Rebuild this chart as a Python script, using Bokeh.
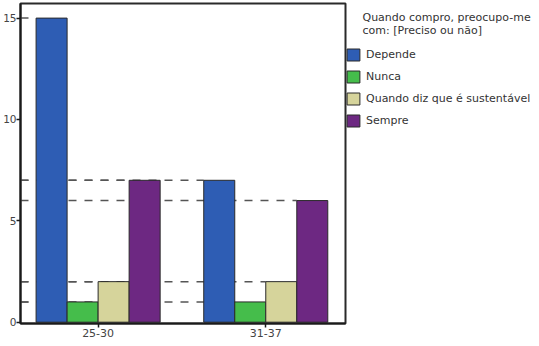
from bokeh.plotting import figure
from bokeh.models import Range1d, FixedTicker, Legend, LegendItem
from bokeh.embed import file_html
from bokeh.resources import INLINE

# ---- data ----
groups = ["25-30", "31-37"]
series = ["Depende", "Nunca", "Quando diz que é sustentável", "Sempre"]
depende = [15, 7]
nunca = [1, 1]
quando = [2, 2]
sempre = [7, 6]
values = [depende, nunca, quando, sempre]
colors = ["#2e5db4", "#45bd4b", "#d6d49b", "#6d2882"]
y_ticks = [0, 5, 10, 15]
legend_title = ["Quando compro, preocupo-me", "com: [Preciso ou não]"]

FONT = "DejaVu Sans"

# ---- layout ----
FW, FT, FH = 325, 3, 320
x0, x1 = -0.463, 1.4756
y0, y1 = -0.064, 15.72
bw = 0.185

p = figure(frame_width=FW, frame_height=FH, output_backend="svg", toolbar_location=None,
           x_range=Range1d(x0, x1), y_range=Range1d(y0, y1),
           min_border_left=0, min_border_top=FT, min_border_bottom=23,
           min_border_right=0)
p.background_fill_color = "white"
p.border_fill_color = "white"
p.outline_line_color = "#2a2a2a"
p.outline_line_width = 2
p.xgrid.visible = False
p.ygrid.visible = False

# dashed reference lines from axis to each bar (behind bars)
for j, vals in enumerate(values):
    xs_left = [i + (j - 2) * bw for i in range(len(groups))]
    p.segment(x0=[x0] * len(vals), y0=vals, x1=xs_left, y1=vals,
              line_color="#555555", line_width=1.5, line_dash="8 8")

items = []
for j, (name, vals, c) in enumerate(zip(series, values, colors)):
    xs = [i + (j - 1.5) * bw for i in range(len(groups))]
    r = p.vbar(x=xs, top=vals, bottom=0, width=bw, fill_color=c,
               line_color="#2a2a2a", line_width=1)
    items.append(LegendItem(label=name, renderers=[r]))

# axes
p.xaxis.ticker = FixedTicker(ticks=list(range(len(groups))))
p.xaxis.major_label_overrides = {i: g for i, g in enumerate(groups)}
p.yaxis.ticker = FixedTicker(ticks=y_ticks)
for ax in (p.xaxis[0], p.yaxis[0]):
    ax.axis_line_color = "#1a1a1a"
    ax.axis_line_width = 2
    ax.major_tick_line_color = "#1a1a1a"
    ax.major_tick_line_width = 1.5
    ax.major_tick_out = 4
    ax.major_tick_in = 0
    ax.minor_tick_line_color = None
    ax.major_label_text_font = FONT
    ax.major_label_text_font_size = "11px"
    ax.major_label_text_color = "#444444"
p.yaxis.major_label_standoff = 0
p.yaxis.major_label_text_font_size = "10.5px"
p.xaxis.major_label_standoff = 1

indent = "\u00a0" * 5
legend = Legend(items=items, location=(0, 195),
                title="\n".join(indent + t for t in legend_title))
legend.border_line_color = None
legend.background_fill_alpha = 0
legend.padding = 5
legend.margin = 0
legend.glyph_width = 16
legend.glyph_height = 15
legend.label_standoff = 5
legend.spacing = 7
legend.label_text_font = FONT
legend.label_text_font_size = "11px"
legend.label_text_color = "#333333"
legend.label_height = 15
legend.title_text_font = FONT
legend.title_text_font_size = "11px"
legend.title_text_font_style = "normal"
legend.title_text_color = "#333333"
legend.title_standoff = 10
p.add_layout(legend, "right")

open("out.html", "w").write(file_html(p, INLINE))
